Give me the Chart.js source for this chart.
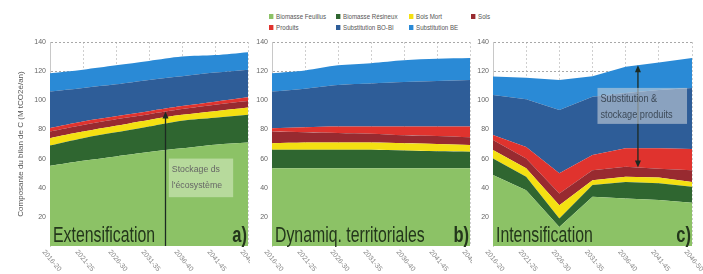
<!DOCTYPE html>
<html>
<head>
<meta charset="utf-8">
<script src="https://cdn.jsdelivr.net/npm/chart.js@4.4.1/dist/chart.umd.min.js"></script>
<style>
body { margin:0; background:#fff; width:703px; height:274px; overflow:hidden; position:relative; font-family:"Liberation Sans", Arial, sans-serif; }
canvas { position:absolute; top:0; }
.item { position:absolute; white-space:nowrap; font-size:7px; color:#555; line-height:8px; transform:scaleX(0.88); transform-origin:left center; }
.item span { display:inline-block; width:5px; height:5px; margin-right:3px; vertical-align:0px; }
</style>
</head>
<body>
<div id="legend"></div>
<canvas id="extens" width="250" height="274" style="left:0"></canvas>
<canvas id="dynam" width="222" height="274" style="left:250px"></canvas>
<canvas id="intens" width="231" height="274" style="left:472px"></canvas>
<script>
const periods = ['2016-20', '2021-25', '2026-30', '2031-35', '2036-40', '2041-45', '2046-50'];
const seriesNames = ['Biomasse Feuillus', 'Biomasse Résineux', 'Bois Mort', 'Sols', 'Produits', 'Substitution BO-BI', 'Substitution BE'];
const seriesColors = ['#8cc266', '#2f6630', '#f4e012', '#982a30', '#e0332e', '#2e5d98', '#2a8ad6'];

// a) Extensification
const extFeuillus  = [55, 58.5, 61.5, 64.5, 67, 69.5, 71];
const extResineux  = [14, 15.5, 16.5, 17.5, 19, 18.5, 19];
const extBoisMort  = [5, 4.5, 4.5, 4.5, 4, 4.5, 5];
const extSols      = [4.5, 4.5, 4.5, 4, 4, 4.5, 4.5];
const extProduits  = [2.5, 2.5, 2, 2, 2, 2, 2.5];
const extSubstBoBi = [25, 23, 22, 21.5, 20.5, 20, 19];
const extSubstBe   = [12.6, 12.5, 13, 13, 13.5, 12, 12];

// b) Dynamiq. territoriales
const dynFeuillus  = [53.3, 53.3, 53.3, 53.3, 53.3, 53.3, 53.3];
const dynResineux  = [12.7, 12.7, 12.7, 12.7, 12.2, 11.7, 11.4];
const dynBoisMort  = [4.5, 5, 5, 5, 5, 5, 4.6];
const dynSols      = [8, 7, 6.5, 6, 5.5, 5.5, 5.3];
const dynProduits  = [2.3, 3.5, 4.5, 5, 6, 6.5, 7.4];
const dynSubstBoBi = [25.2, 26.5, 28.5, 29.5, 30.5, 31.3, 32];
const dynSubstBe   = [12.6, 12.5, 13.5, 14, 15, 15.2, 15];

// c) Intensification
const intFeuillus  = [48.7, 38.3, 13, 33.8, 32.6, 31.5, 29.6];
const intResineux  = [11.3, 9.2, 5.9, 8, 11.4, 11.5, 11];
const intBoisMort  = [5.9, 5.8, 9.1, 3.4, 3.5, 4, 3.4];
const intSols      = [6.9, 6.7, 8, 6.8, 6.9, 6, 8];
const intProduits  = [3.4, 8, 14, 10.4, 12.6, 14, 14.5];
const intSubstBoBi = [27.5, 32.7, 43.4, 40.1, 38, 40, 42];
const intSubstBe   = [12.6, 14.8, 20.6, 14, 18, 19, 20.5];

const yTitle = 'Composante du bilan de C (M tCO2é/an)';

// legend
const legendSpots = [[269, 13], [336, 13], [409, 13], [471, 13], [269, 24], [336, 24], [409, 24]];
const legendBox = document.getElementById('legend');
seriesNames.forEach((name, i) => {
    const d = document.createElement('div');
    d.className = 'item';
    d.style.left = legendSpots[i][0] + 'px';
    d.style.top = legendSpots[i][1] + 'px';
    d.innerHTML = '<span style="background:' + seriesColors[i] + '"></span>' + name;
    legendBox.appendChild(d);
});

// top of the stack made of the first n series at a fractional index
function stackTop(series, n, idx) {
    const i0 = Math.floor(idx), i1 = Math.min(i0 + 1, periods.length - 1), f = idx - i0;
    let a = 0, b = 0;
    for (let k = 0; k < n; k++) { a += series[k][i0]; b += series[k][i1]; }
    return a + (b - a) * f;
}

function arrowHead(ctx, x, y, dir) {
    ctx.beginPath();
    ctx.moveTo(x, y);
    ctx.lineTo(x - 3, y + dir * 7);
    ctx.lineTo(x + 3, y + dir * 7);
    ctx.closePath();
    ctx.fill();
}

// condensed text, the page has no narrow font
function narrowText(ctx, text, x, y, squeeze, align) {
    ctx.save();
    ctx.translate(x, y);
    ctx.scale(squeeze, 1);
    ctx.textAlign = align;
    ctx.fillText(text, 0, 0);
    ctx.restore();
}

const decorations = {
    id: 'decorations',
    afterDatasetsDraw(chart, args, opts) {
        const {ctx, chartArea, scales: {x, y}} = chart;
        const series = opts.series;
        ctx.save();

        // arrow
        if (opts.arrow) {
            const ax = x.getPixelForValue(opts.arrow.at);
            const yTop = y.getPixelForValue(stackTop(series, opts.arrow.upper, opts.arrow.at));
            const yBot = opts.arrow.lower === 0 ? chartArea.bottom : y.getPixelForValue(stackTop(series, opts.arrow.lower, opts.arrow.at));
            ctx.strokeStyle = '#1c2a22';
            ctx.fillStyle = '#1c2a22';
            ctx.lineWidth = 1.3;
            ctx.beginPath();
            ctx.moveTo(ax, yTop + 4);
            ctx.lineTo(ax, opts.arrow.lower === 0 ? yBot : yBot - 4);
            ctx.stroke();
            arrowHead(ctx, ax, yTop, 1);
            if (opts.arrow.lower !== 0) arrowHead(ctx, ax, yBot, -1);
        }

        // note box
        if (opts.note) {
            const n = opts.note;
            const x0 = x.getPixelForValue(n.from), x1 = x.getPixelForValue(n.to);
            const y0 = y.getPixelForValue(n.top), y1 = y.getPixelForValue(n.bottom);
            ctx.fillStyle = n.fill;
            ctx.fillRect(x0, y0, x1 - x0, y1 - y0);
            ctx.fillStyle = n.color;
            ctx.font = n.font;
            ctx.textBaseline = 'middle';
            n.lines.forEach((t, i) => narrowText(ctx, t, x0 + 3, y0 + 11 + i * 16, 0.92, 'left'));
        }

        // panel title and letter
        ctx.fillStyle = '#23361b';
        ctx.textBaseline = 'alphabetic';
        ctx.font = '22px "Liberation Sans", sans-serif';
        narrowText(ctx, opts.name, chartArea.left + 3, chartArea.bottom - 4, 0.72, 'left');
        ctx.font = 'bold 22px "Liberation Sans", sans-serif';
        narrowText(ctx, opts.letter, chartArea.right - 1, chartArea.bottom - 4, 0.75, 'right');

        // slanted period labels
        ctx.font = '7px "Liberation Sans", sans-serif';
        ctx.fillStyle = '#888';
        periods.forEach((p, i) => {
            ctx.save();
            ctx.translate(x.getPixelForValue(i) - 8, chartArea.bottom + 6);
            ctx.rotate(50 * Math.PI / 180);
            ctx.fillText(p, 0, 0);
            ctx.restore();
        });
        ctx.restore();
    }
};

function makePanel(id, series, axisWidth, padLeft, padRight, tension, showTitle, extra) {
    const datasets = series.map((values, i) => ({
        label: seriesNames[i],
        data: values,
        backgroundColor: seriesColors[i],
        borderColor: seriesColors[i],
        borderWidth: 0,
        pointRadius: 0,
        tension: tension,
        fill: i === 0 ? 'origin' : '-1'
    }));

    const config = {
        type: 'line',
        data: { labels: periods, datasets: datasets },
        options: {
            responsive: false,
            animation: false,
            layout: { padding: { top: 42, bottom: 28, left: padLeft, right: padRight } },
            plugins: {
                legend: { display: false },
                tooltip: { enabled: false },
                decorations: Object.assign({ series: series }, extra)
            },
            scales: {
                x: {
                    offset: false,
                    ticks: { display: false },
                    grid: { color: '#cfcfcf', drawTicks: false },
                    border: { display: false, dash: [2, 2] },
                    afterFit: s => { s.height = 0; }
                },
                y: {
                    stacked: true,
                    min: 0,
                    max: 140,
                    ticks: {
                        stepSize: 20,
                        padding: 4,
                        color: '#666',
                        font: { size: 7, family: '"Liberation Sans", sans-serif' },
                        callback: v => v === 0 ? '' : v
                    },
                    grid: {
                        drawTicks: false,
                        color: c => (c.tick && (c.tick.value === 120 || c.tick.value === 140)) ? '#a8a8a8' : 'rgba(0,0,0,0)'
                    },
                    border: { display: true, color: '#c8c8c8', dash: [2, 2] },
                    title: {
                        display: showTitle,
                        text: yTitle,
                        color: '#555',
                        padding: 0,
                        font: { size: 8, family: '"Liberation Sans", sans-serif' }
                    },
                    afterFit: s => { s.width = axisWidth; }
                }
            }
        },
        plugins: [decorations]
    };
    new Chart(document.getElementById(id), config);
}

makePanel('extens',
    [extFeuillus, extResineux, extBoisMort, extSols, extProduits, extSubstBoBi, extSubstBe],
    34, 16, 2, 0.3, true,
    {
        name: 'Extensification', letter: 'a)',
        arrow: { at: 3.5, upper: 4, lower: 0 },
        note: { from: 3.6, to: 5.55, top: 60, bottom: 33.5, fill: 'rgba(235,248,222,0.45)', color: '#666',
                font: '9.5px "Liberation Sans", sans-serif', lines: ['Stockage ds', "l'écosystème"] }
    });

makePanel('dynam',
    [dynFeuillus, dynResineux, dynBoisMort, dynSols, dynProduits, dynSubstBoBi, dynSubstBe],
    22, 0, 2, 0.3, false,
    { name: 'Dynamiq. territoriales', letter: 'b)' });

makePanel('intens',
    [intFeuillus, intResineux, intBoisMort, intSols, intProduits, intSubstBoBi, intSubstBe],
    21, 0, 11, 0, false,
    {
        name: 'Intensification', letter: 'c)',
        arrow: { at: 4.37, upper: 7, lower: 4 },
        note: { from: 3.15, to: 5.85, top: 108.5, bottom: 83.8, fill: 'rgba(200,208,216,0.6)', color: '#3d4a58',
                font: '10px "Liberation Sans", sans-serif', lines: ['Substitution &', 'stockage produits'] }
    });
</script>
</body>
</html>
